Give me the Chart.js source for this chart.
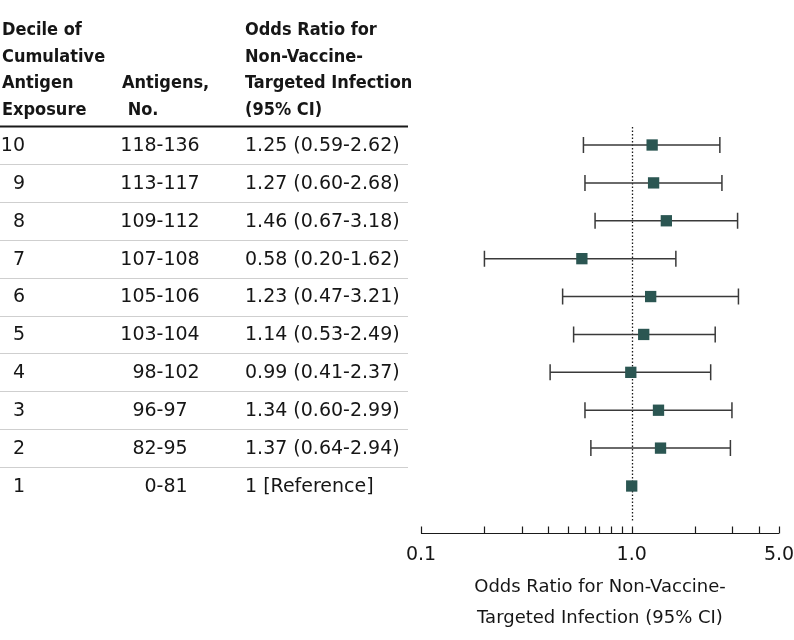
<!DOCTYPE html>
<html>
<head>
<meta charset="utf-8">
<script src="https://cdn.jsdelivr.net/npm/chart.js@4.4.0/dist/chart.umd.min.js"></script>
<style>
  html, body { margin: 0; padding: 0; background: #fff; }
  #wrap { width: 794px; height: 640px; position: relative; }
</style>
</head>
<body>
<div id="wrap"><canvas id="forest-chart"></canvas></div>
<script>
// table rows, top to bottom
const deciles = [10, 9, 8, 7, 6, 5, 4, 3, 2, 1];
const antigenRanges = ['118-136', '113-117', '109-112', '107-108', '105-106', '103-104', '98-102', '96-97', '82-95', '0-81'];
const oddsRatios = [1.25, 1.27, 1.46, 0.58, 1.23, 1.14, 0.99, 1.34, 1.37, 1];
const ciLower = [0.59, 0.60, 0.67, 0.20, 0.47, 0.53, 0.41, 0.60, 0.64, null];
const ciUpper = [2.62, 2.68, 3.18, 1.62, 3.21, 2.49, 2.37, 2.99, 2.94, null];
const orLabels = ['1.25 (0.59-2.62)', '1.27 (0.60-2.68)', '1.46 (0.67-3.18)', '0.58 (0.20-1.62)', '1.23 (0.47-3.21)',
    '1.14 (0.53-2.49)', '0.99 (0.41-2.37)', '1.34 (0.60-2.99)', '1.37 (0.64-2.94)', '1 [Reference]'];

// axis
const xTickValues = [0.1, 0.2, 0.3, 0.4, 0.5, 0.6, 0.7, 0.8, 0.9, 1, 2, 3, 4, 5];
const xTickLabels = ['0.1', '1.0', '5.0'];
const xLabeledTicks = [0.1, 1, 5];
const axisTitle = ['Odds Ratio for Non-Vaccine-', 'Targeted Infection (95% CI)'];

// header text
const headCol1 = ['Decile of', 'Cumulative', 'Antigen', 'Exposure'];
const headCol2 = ['', '', 'Antigens,', ' No.'];
const headCol3 = ['Odds Ratio for', 'Non-Vaccine-', 'Targeted Infection', '(95% CI)'];

const TEXT = '#161616';
const MARK = '#2b5652';
const BODY_FONT = '19px "DejaVu Sans"';
const HEAD_FONT = 'bold 18px "DejaVu Sans Condensed"';
const TICK_FONT = '19px "DejaVu Sans"';
const TITLE_FONT = '18px "DejaVu Sans"';

const forestPlugin = {
    id: 'forest',
    beforeDatasetsDraw(chart) {
        const { ctx, chartArea, scales } = chart;
        const x = scales.x, y = scales.y;
        ctx.save();
        // reference line at OR = 1
        ctx.strokeStyle = '#1a1a1a';
        ctx.lineWidth = 1.3;
        ctx.setLineDash([1.5, 2]);
        const x1 = Math.round(x.getPixelForValue(1)) + 0.5;
        ctx.beginPath();
        ctx.moveTo(x1, chartArea.top);
        ctx.lineTo(x1, chartArea.bottom);
        ctx.stroke();
        ctx.setLineDash([]);

        // confidence intervals
        ctx.strokeStyle = '#3a3a3a';
        ctx.lineWidth = 1.5;
        deciles.forEach((d, i) => {
            if (ciLower[i] == null) return;
            const py = y.getPixelForValue(d);
            const xl = x.getPixelForValue(ciLower[i]);
            const xu = x.getPixelForValue(ciUpper[i]);
            ctx.beginPath();
            ctx.moveTo(xl, py);
            ctx.lineTo(xu, py);
            ctx.moveTo(xl, py - 8);
            ctx.lineTo(xl, py + 8);
            ctx.moveTo(xu, py - 8);
            ctx.lineTo(xu, py + 8);
            ctx.stroke();
        });
        ctx.restore();
    },
    afterDraw(chart) {
        const { ctx, chartArea, scales } = chart;
        const x = scales.x, y = scales.y;
        ctx.save();
        ctx.fillStyle = TEXT;
        ctx.textBaseline = 'middle';

        // header
        ctx.font = HEAD_FONT;
        ctx.textAlign = 'left';
        const headY = [30, 57, 83, 110];
        headY.forEach((hy, i) => {
            ctx.fillText(headCol1[i], 2, hy);
            if (headCol2[i]) ctx.fillText(headCol2[i], 122, hy);
            ctx.fillText(headCol3[i], 245, hy);
        });

        // header rule
        ctx.strokeStyle = '#1a1a1a';
        ctx.lineWidth = 2;
        ctx.beginPath();
        ctx.moveTo(0, chartArea.top - 0.5);
        ctx.lineTo(408, chartArea.top - 0.5);
        ctx.stroke();

        // row separators
        ctx.strokeStyle = '#cfcfcf';
        ctx.lineWidth = 1;
        for (let r = 1; r < deciles.length; r++) {
            const sy = Math.round(y.getPixelForValue(r + 0.5)) + 0.5;
            ctx.beginPath();
            ctx.moveTo(0, sy);
            ctx.lineTo(408, sy);
            ctx.stroke();
        }

        // body rows
        ctx.font = BODY_FONT;
        deciles.forEach((d, i) => {
            const py = y.getPixelForValue(d) + 1;
            ctx.textAlign = 'right';
            ctx.fillText(String(d), 25, py);
            // align antigen ranges on the hyphen
            const parts = antigenRanges[i].split('-');
            const hw = ctx.measureText('-').width;
            ctx.fillText(parts[0], 160 - hw / 2, py);
            ctx.textAlign = 'left';
            ctx.fillText('-' + parts[1], 160 - hw / 2, py);
            ctx.fillText(orLabels[i], 245, py);
        });

        // x axis with upward ticks
        const axisY = chartArea.bottom + 11.5;
        ctx.strokeStyle = '#1a1a1a';
        ctx.lineWidth = 1.2;
        ctx.beginPath();
        ctx.moveTo(x.getPixelForValue(xTickValues[0]), axisY);
        ctx.lineTo(x.getPixelForValue(xTickValues[xTickValues.length - 1]), axisY);
        xTickValues.forEach(v => {
            const px = Math.round(x.getPixelForValue(v)) + 0.5;
            ctx.moveTo(px, axisY);
            ctx.lineTo(px, axisY - 7);
        });
        ctx.stroke();

        ctx.font = TICK_FONT;
        ctx.textAlign = 'center';
        xLabeledTicks.forEach((v, i) => {
            ctx.fillText(xTickLabels[i], x.getPixelForValue(v), axisY + 22);
        });
        ctx.font = TITLE_FONT;
        ctx.fillText(axisTitle[0], 600, axisY + 54);
        ctx.fillText(axisTitle[1], 600, axisY + 85);
        ctx.restore();
    }
};

const ctx = document.getElementById('forest-chart').getContext('2d');
const chart = new Chart(ctx, {
    type: 'scatter',
    data: {
        datasets: [{
            label: 'Odds ratio',
            data: deciles.map((d, i) => ({ x: oddsRatios[i], y: d })),
            pointStyle: 'rect',
            pointRadius: 8,
            pointHoverRadius: 8,
            backgroundColor: MARK,
            borderColor: MARK,
            borderWidth: 0
        }]
    },
    options: {
        responsive: true,
        maintainAspectRatio: false,
        animation: false,
        layout: {
            padding: { left: 421, right: 15, top: 127, bottom: 118 }
        },
        scales: {
            x: {
                type: 'logarithmic',
                min: 0.1,
                max: 5,
                display: false
            },
            y: {
                type: 'linear',
                min: 0.05,
                max: 10.475,
                display: false
            }
        },
        plugins: {
            legend: { display: false },
            tooltip: { enabled: false }
        }
    },
    plugins: [forestPlugin]
});
</script>
</body>
</html>
